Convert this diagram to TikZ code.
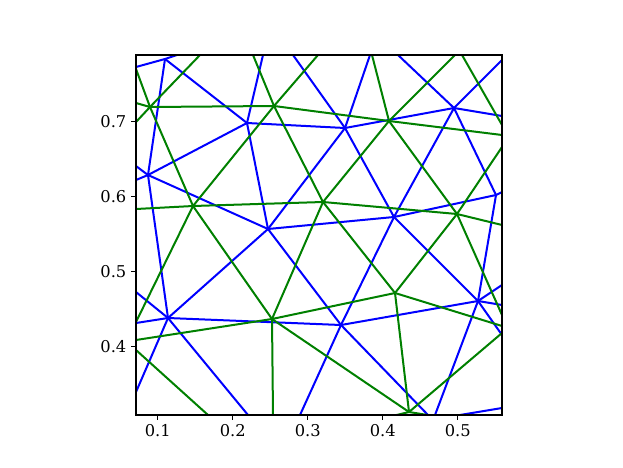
\documentclass[tikz,border=0pt]{standalone}
\usepackage{fontspec}
\setmainfont{DejaVu Serif}
\definecolor{mplgreen}{RGB}{0,128,0}
\begin{document}
\begin{tikzpicture}[x=0.75pt,y=-0.75pt,
  blueedge/.style={blue, line width=1.5pt},
  greenedge/.style={mplgreen, line width=1.5pt},
  ticklabel/.style={font=\fontsize{12.2}{14}\selectfont, inner sep=0pt}]
  \useasboundingbox (0,0) rectangle (623,467);

  % Blue vertices
  \coordinate (b1) at (165,59);
  \coordinate (b2) at (148,175);
  \coordinate (b3) at (247,123);
  \coordinate (b4) at (268,229);
  \coordinate (b5) at (345,128);
  \coordinate (b6) at (454,108);
  \coordinate (b7) at (496,195);
  \coordinate (b8) at (394,217);
  \coordinate (b9) at (168,318);
  \coordinate (b10) at (341,325);
  \coordinate (b11) at (478,301);
  % Blue ends on the frame
  \coordinate (bx1) at (136,67);
  \coordinate (bx2) at (177,55);
  \coordinate (bx3) at (136,166);
  \coordinate (bx4) at (136,180);
  \coordinate (bx5) at (263,55);
  \coordinate (bx6) at (370,55);
  \coordinate (bx7) at (293,55);
  \coordinate (bx8) at (398,55);
  \coordinate (bx9) at (502,60);
  \coordinate (bx10) at (502,116);
  \coordinate (bx11) at (502,192);
  \coordinate (bx12) at (136,292);
  \coordinate (bx13) at (136,323);
  \coordinate (bx14) at (136,392);
  \coordinate (bx15) at (248,415);
  \coordinate (bx16) at (300,415);
  \coordinate (bx17) at (428,415);
  \coordinate (bx18) at (502,285);
  \coordinate (bx19) at (502,305);
  \coordinate (bx20) at (502,335);
  \coordinate (bx21) at (435,415);
  \coordinate (bx22) at (460,415);
  \coordinate (bx23) at (502,408);

  % Green vertices
  \coordinate (g1) at (150,107);
  \coordinate (g2) at (274,106);
  \coordinate (g3) at (193,206);
  \coordinate (g4) at (389,121);
  \coordinate (g5) at (323,202);
  \coordinate (g6) at (457,214);
  \coordinate (g7) at (272,319);
  \coordinate (g8) at (395,293);
  \coordinate (g9) at (409,412);
  % Green ends on the frame
  \coordinate (gx1) at (136,69);
  \coordinate (gx2) at (136,103);
  \coordinate (gx3) at (136,122);
  \coordinate (gx4) at (200,55);
  \coordinate (gx5) at (253,55);
  \coordinate (gx6) at (318,55);
  \coordinate (gx7) at (136,209);
  \coordinate (gx8) at (136,322);
  \coordinate (gx9) at (372,55);
  \coordinate (gx10) at (455,55);
  \coordinate (gx11) at (502,135);
  \coordinate (gx12) at (502,147);
  \coordinate (gx13) at (502,225);
  \coordinate (gx14) at (502,315);
  \coordinate (gx15) at (273,415);
  \coordinate (gx16) at (136,340);
  \coordinate (gx17) at (502,326);
  \coordinate (gx18) at (502,333);
  \coordinate (gx19) at (380,419);
  \coordinate (gx20) at (440,417);
  \coordinate (gx21) at (462,55);
  \coordinate (gx22) at (502,125);
  \coordinate (gx23) at (136,350);
  \coordinate (gx24) at (208,415);

  % Edges
  \begin{scope}
    \clip (136,55) rectangle (502,415);
    \foreach \x/\y in {b1/b2, b1/b3, b2/b3, b2/b4, b2/b9, b3/b4, b3/b5,
        b4/b5, b4/b8, b4/b9, b4/b10, b5/b6, b5/b8, b6/b7, b6/b8, b7/b8,
        b7/b11, b8/b10, b8/b11, b9/b10, b10/b11,
        b1/bx1, b1/bx2, b2/bx3, b2/bx4, b3/bx5, b5/bx6, b5/bx7, b6/bx8,
        b6/bx9, b6/bx10, b7/bx11, b9/bx12, b9/bx13, b9/bx14, b9/bx15,
        b10/bx16, b10/bx17, b11/bx18, b11/bx19, b11/bx20, b11/bx21, bx22/bx23}
      \draw[blueedge] (\x) -- (\y);
    \foreach \x/\y in {g1/g2, g1/g3, g2/g3, g2/g4, g2/g5, g3/g5, g3/g7,
        g4/g5, g4/g6, g5/g6, g5/g7, g5/g8, g6/g8, g7/g8, g7/g9, g8/g9,
        g1/gx1, g1/gx2, g1/gx3, g1/gx4, g2/gx5, g2/gx6, g3/gx7, g3/gx8,
        g4/gx9, g4/gx10, g4/gx11, g6/gx12, g6/gx13, g6/gx14, g7/gx15,
        g7/gx16, g8/gx17, g9/gx18, g9/gx19, g9/gx20, gx21/gx22, gx23/gx24}
      \draw[greenedge] (\x) -- (\y);
  \end{scope}

  % Axes
  \draw[line width=0.8pt] (136,55) rectangle (502,415);
  \foreach \i/\v/\name in {1/157.7/0.1, 2/232.7/0.2, 3/307.7/0.3, 4/382.7/0.4, 5/457.7/0.5} {
    \draw[line width=0.8pt] (\v,415) -- (\v,419.7);
    \node[ticklabel, anchor=north] (xt\i) at (\v,424.5) {\name};
  }
  \foreach \i/\v/\name in {1/346.7/0.4, 2/271.7/0.5, 3/196.7/0.6, 4/121.7/0.7} {
    \draw[line width=0.8pt] (136,\v) -- (131.3,\v);
    \node[ticklabel, anchor=east] (yt\i) at (126.6,\v) {\name};
  }
\end{tikzpicture}
\end{document}
